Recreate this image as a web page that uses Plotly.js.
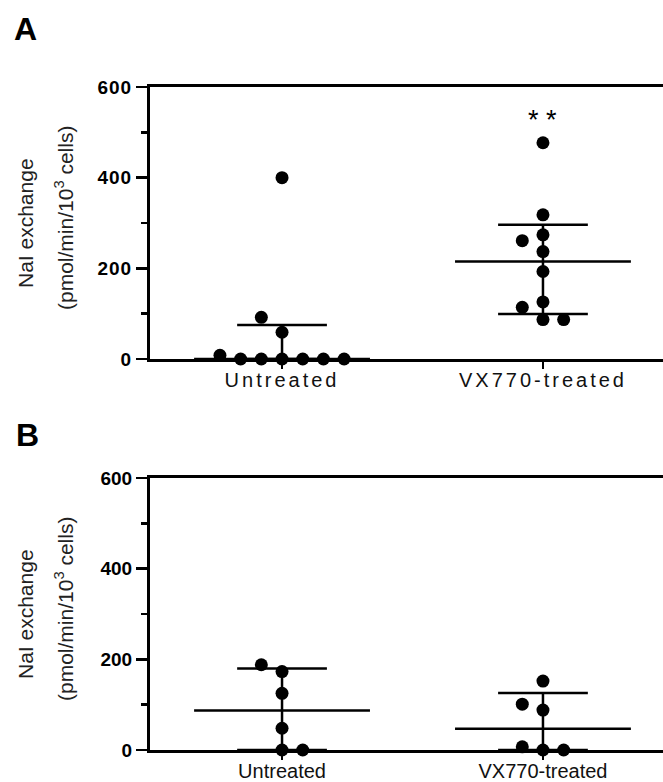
<!DOCTYPE html>
<html>
<head>
<meta charset="utf-8">
<script src="https://cdn.plot.ly/plotly-3.0.1.min.js"></script>
<style>
  html, body { margin: 0; padding: 0; background: #fff; }
  #chart { width: 663px; height: 782px; }
  .xtick text { letter-spacing: 3px; }
  .ytick text { letter-spacing: 1px; }
</style>
</head>
<body>
<div id="chart"></div>
<script>
// ---------------- data ----------------
const categories = ["Untreated", "VX770-treated"];

// Panel A
const A_untreated = [400, 92, 59, 8, 0, 0, 0, 0, 0, 0];
const A_untreated_slot = [0, -1, 0, -3, -2, -1, 0, 1, 2, 3];
const A_vx770 = [477, 318, 274, 261, 237, 193, 126, 114, 87, 87];
const A_vx770_slot = [0, 0, 0, -1, 0, 0, 0, -1, 0, 1];
// median, lower quartile, upper quartile
const A_median = [0, 215];
const A_q1 = [0, 99];
const A_q3 = [75, 296];

// Panel B
const B_untreated = [188, 173, 125, 48, 0, 0];
const B_untreated_slot = [-1, 0, 0, 0, 0, 1];
const B_vx770 = [152, 101, 88, 7, 0, 0];
const B_vx770_slot = [0, -1, 0, -1, 0, 1];
const B_median = [87, 47];
const B_q1 = [0, 0];
const B_q3 = [180, 126];

const yTicks = [0, 200, 400, 600];

// ---------------- build ----------------
const SLOT = 0.0793;   // horizontal spacing of stacked dots (category units)
const MED_HW = 0.337;  // half width of median line
const CAP_HW = 0.172;  // half width of quartile caps

function dotsTrace(vals, slots, catIndex, xa, ya) {
  return {
    type: "scatter", mode: "markers",
    x: vals.map((v, i) => catIndex + slots[i] * SLOT),
    y: vals.slice(),
    xaxis: xa, yaxis: ya, cliponaxis: false, showlegend: false,
    marker: { color: "#000", size: 13, line: { width: 0 } },
    hoverinfo: "y"
  };
}
function summaryTrace(med, q1, q3, xa, ya) {
  const x = [], y = [];
  for (let c = 0; c < med.length; c++) {
    x.push(c - MED_HW, c + MED_HW, null); y.push(med[c], med[c], null);
    x.push(c - CAP_HW, c + CAP_HW, null); y.push(q3[c], q3[c], null);
    x.push(c - CAP_HW, c + CAP_HW, null); y.push(q1[c], q1[c], null);
    x.push(c, c, null); y.push(q1[c], q3[c], null);
  }
  return {
    type: "scatter", mode: "lines", x, y, xaxis: xa, yaxis: ya,
    cliponaxis: false, showlegend: false, hoverinfo: "skip",
    line: { color: "#000", width: 2.5 }
  };
}

const data = [
  summaryTrace(A_median, A_q1, A_q3, "x", "y"),
  dotsTrace(A_untreated, A_untreated_slot, 0, "x", "y"),
  dotsTrace(A_vx770, A_vx770_slot, 1, "x", "y"),
  summaryTrace(B_median, B_q1, B_q3, "x2", "y2"),
  dotsTrace(B_untreated, B_untreated_slot, 0, "x2", "y2"),
  dotsTrace(B_vx770, B_vx770_slot, 1, "x2", "y2")
];

const H = 782, W = 663;
const tickFontY = { family: "Liberation Sans, Arial, sans-serif", size: 19, color: "#000", weight: "bold" };
const tickFontX = { family: "Liberation Sans, Arial, sans-serif", size: 20, color: "#111" };

function xAxis(anchor) {
  return {
    anchor, domain: [150 / W, 1], range: [-0.506, 1.46],
    tickmode: "array", tickvals: [0, 1], ticktext: categories,
    showline: true, mirror: true, linecolor: "#000", linewidth: 3,
    ticks: "outside", ticklen: 7, tickwidth: 2.5, tickcolor: "#000",
    ticklabelstandoff: -6,
    showgrid: false, zeroline: false, tickfont: tickFontX, fixedrange: true
  };
}
function yAxis(anchor, top, bottom) {
  return {
    anchor, domain: [1 - bottom / H, 1 - top / H], range: [0, 600],
    tickmode: "array", tickvals: yTicks,
    showline: true, linecolor: "#000", linewidth: 3,
    ticks: "outside", ticklen: 11, tickwidth: 2.5, tickcolor: "#000",
    minor: { tickmode: "linear", tick0: 0, dtick: 100, ticks: "outside", ticklen: 6, tickwidth: 2.5, tickcolor: "#000", showgrid: false },
    showgrid: false, zeroline: false, tickfont: tickFontY, fixedrange: true
  };
}

const titleFont = { family: "Liberation Sans, Arial, sans-serif", size: 21, color: "#222" };
const line1 = "NaI exchange";
const line2 = "(pmol/min/10<sup>3</sup> cells)";
const ann = (text, x, y, extra) => Object.assign({
  text, xref: "paper", yref: "paper", x: x / W, y: 1 - y / H,
  xanchor: "center", yanchor: "middle", showarrow: false
}, extra);
const panelFont = { family: "Liberation Sans, Arial, sans-serif", size: 32, color: "#000", weight: "bold" };

const layout = {
  width: W, height: H,
  margin: { l: 0, r: 0, t: 0, b: 0, pad: 0 },
  paper_bgcolor: "#fff", plot_bgcolor: "#fff",
  showlegend: false,
  xaxis: xAxis("y"),
  yaxis: yAxis("x", 87, 359),
  xaxis2: xAxis("y2"),
  yaxis2: yAxis("x2", 478, 750),
  annotations: [
    ann("A", 25, 29, { font: panelFont }),
    ann("B", 27, 435, { font: panelFont }),
    { text: "* *", xref: "x", yref: "y", x: 1, y: 528, xanchor: "center", yanchor: "middle", showarrow: false,
      font: { family: "Liberation Sans, Arial, sans-serif", size: 27, color: "#000" } },
    ann(line1, 25, 223, { textangle: -90, font: titleFont }),
    ann(line2, 64, 218, { textangle: -90, font: titleFont }),
    ann(line1, 25, 614, { textangle: -90, font: titleFont }),
    ann(line2, 64, 609, { textangle: -90, font: titleFont })
  ]
};

Plotly.newPlot("chart", data, layout, { displayModeBar: false, staticPlot: true });
</script>
</body>
</html>
